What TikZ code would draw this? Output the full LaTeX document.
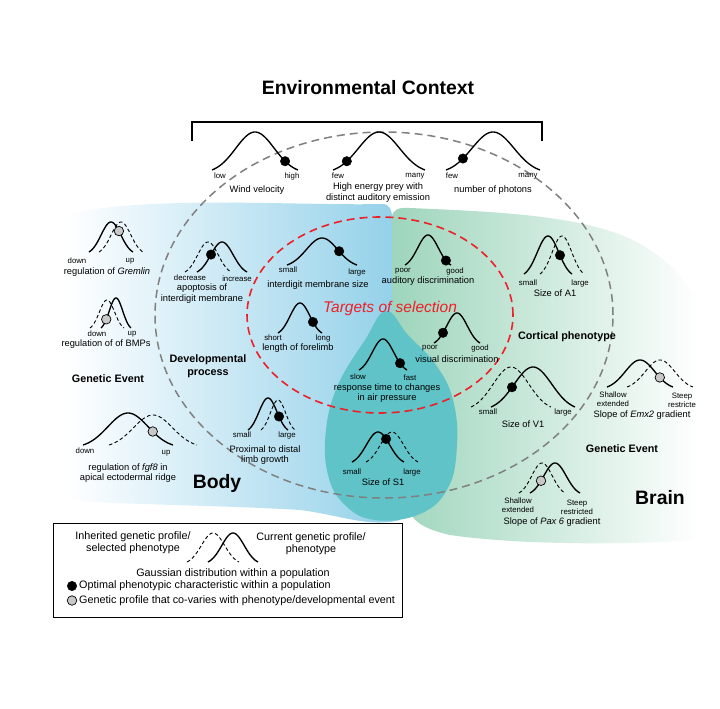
\documentclass[tikz,border=0pt]{standalone}
\usepackage{fontspec}
\setmainfont{Liberation Sans}
\definecolor{bodyblue}{RGB}{146,208,233}
\definecolor{braingreen}{RGB}{158,213,188}
\definecolor{tealsone}{RGB}{96,195,200}
\definecolor{dotgray}{RGB}{200,200,200}
\definecolor{circgray}{RGB}{128,128,128}
\definecolor{selred}{RGB}{237,32,40}
\tikzset{
  bellline/.style={line width=1.35pt, black},
  belldash/.style={line width=0.9pt, black, dash pattern=on 3.5pt off 2.5pt},
  bdot/.style={circle, fill=black, draw=black, inner sep=0pt, minimum size=9.5pt},
  gdot/.style={circle, fill=dotgray, draw=black, line width=0.7pt, inner sep=0pt, minimum size=9.5pt},
  lbl/.style={inner sep=0pt, align=center, font=\fontsize{7.8}{8.8}\selectfont},
  desc/.style={inner sep=0pt, align=center, font=\fontsize{9.3}{10.6}\selectfont},
  hdr/.style={inner sep=0pt, align=center, font=\bfseries\fontsize{10.8}{12.5}\selectfont},
  bigtitle/.style={inner sep=0pt, font=\bfseries\fontsize{19.4}{22}\selectfont},
  lgd/.style={inner sep=0pt, align=center, font=\fontsize{10.8}{12.4}\selectfont},
  graycirc/.style={circgray, line width=1.5pt, dash pattern=on 8pt off 5pt},
  redcirc/.style={selred, line width=1.6pt, dash pattern=on 8pt off 5pt},
}
% bell: [style] cx, base, half-width, height
\newcommand\bellc[5][bellline]{%
  \draw[bellline,#1] plot[domain=-1:1,samples=50,smooth]
    ({#2+#4*\x},{#3-#5*(exp(-2.5*\x*\x)-0.082)/0.918});}
% dot on a bell: name, style, cx, base, half-width, height, t
\newcommand\belldot[7]{%
  \node[#2] (#1) at ({#3+#5*(#7)},{#4-#6*(exp(-2.5*(#7)*(#7))-0.082)/0.918}) {};}

\begin{document}
\begin{tikzpicture}[x=1pt,y=-1pt]
\useasboundingbox (0,0) rectangle (720,709);
\fill[white] (0,0) rectangle (720,709);

% ---------- regions ----------
\shade[left color=white, right color=bodyblue]
  (68,214) .. controls (150,195) and (300,206) .. (382,204)
  .. controls (390,204) and (392,210) .. (392,218)
  -- (392,330) -- (400,520)
  .. controls (370,528) and (340,515) .. (300,510)
  .. controls (220,505) and (120,505) .. (70,500)
  .. controls (66,400) and (66,300) .. (68,214) -- cycle;
\shade[left color=braingreen, right color=white]
  (392,218) .. controls (392,210) and (398,207) .. (410,208)
  .. controls (500,212) and (600,215) .. (650,250)
  .. controls (680,270) and (695,290) .. (700,320)
  -- (700,540)
  .. controls (620,545) and (520,545) .. (450,535)
  .. controls (420,528) and (410,520) .. (405,500)
  -- (392,330) -- cycle;
\fill[tealsone] plot[smooth cycle, tension=0.7] coordinates
  {(386,311) (365,340) (338,385) (326,430) (328,475) (345,505) (375,520)
   (420,514) (448,488) (457,445) (453,400) (436,365) (408,335)};

% ---------- circles ----------
\draw[graycirc] (384,315) ellipse [x radius=229pt, y radius=183pt];
\draw[redcirc] (380,315) ellipse [x radius=133pt, y radius=98pt];

% ---------- environmental context ----------
\node[bigtitle] (title) at (368,88) {Environmental Context};
\draw[line width=1.6pt] (192,141) -- (192,122) -- (542,122) -- (542,141);

\bellc{255}{170}{43}{38}
\belldot{dwind}{bdot}{255}{170}{43}{38}{0.70}
\node[lbl] (lwlow) at (220,176) {low};
\node[lbl] (lwhigh) at (292,176) {high};
\node[desc] (twind) at (257,190) {Wind velocity};

\bellc{379}{170}{46}{38}
\belldot{dprey}{bdot}{379}{170}{46}{38}{-0.70}
\node[lbl] (lpfew) at (338,176) {few};
\node[lbl] (lpmany) at (415,176) {many};
\node[desc] (tprey) at (378,192.5) {High energy prey with\\distinct auditory emission};

\bellc{493}{170}{47}{38}
\belldot{dphot}{bdot}{493}{170}{47}{38}{-0.64}
\node[lbl] (lffew) at (452,176) {few};
\node[lbl] (lfmany) at (528,176) {many};
\node[desc] (tphot) at (493,190) {number of photons};

% ---------- body: genetic events ----------
\bellc{111}{252}{22}{30}
\bellc[belldash]{121}{252}{22}{30}
\belldot{dgrem}{gdot}{111}{252}{22}{30}{0.36}
\node[lbl] (lgdown) at (77,261) {down};
\node[lbl] (lgup) at (130,261) {up};
\node[desc] (tgrem) at (107,272) {regulation of \textit{Gremlin}};

\bellc{116}{328}{15}{30}
\bellc[belldash]{107}{328}{17}{28}
\belldot{dbmp}{gdot}{116}{328}{15}{30}{-0.65}
\node[lbl] (lbdown) at (97,334) {down};
\node[lbl] (lbup) at (132,334) {up};
\node[desc] (tbmp) at (106,344) {regulation of of BMPs};

\node[hdr] (genleft) at (108,379) {Genetic Event};

\bellc{128}{445}{45}{32}
\bellc[belldash]{153}{445}{44}{30}
\belldot{dfgf}{gdot}{128}{445}{45}{32}{0.55}
\node[lbl] (lfdown) at (85,451) {down};
\node[lbl] (lfup) at (166,453) {up};
\node[desc] (tfgf) at (128,473) {regulation of \textit{fgf8} in\\apical ectodermal ridge};

% ---------- body: developmental process ----------
\bellc{222}{272}{25}{30}
\bellc[belldash]{208}{272}{23}{30}
\belldot{dapop}{bdot}{222}{272}{25}{30}{-0.44}
\node[lbl] (ladec) at (190,278) {decrease};
\node[lbl] (lainc) at (237,279) {increase};
\node[desc] (tapop) at (202,293.5) {apoptosis of\\interdigit membrane};

\node[hdr] (devproc) at (208,366) {Developmental\\process};

\bellc{268}{430}{20}{32}
\bellc[belldash]{278}{430}{17}{30}
\belldot{dprox}{bdot}{268}{430}{20}{32}{0.55}
\node[lbl] (lpsmall) at (242,435) {small};
\node[lbl] (lplarge) at (287,435) {large};
\node[desc] (tprox) at (265,455) {Proximal to distal\\limb growth};

\node[bigtitle] (body) at (217,483) {Body};

% ---------- targets of selection ----------
\bellc{322}{265}{35}{27}
\belldot{dmemb}{bdot}{322}{265}{35}{27}{0.49}
\node[lbl] (lmsmall) at (288,270) {small};
\node[lbl] (lmlarge) at (357,272) {large};
\node[desc] (tmemb) at (318,285) {interdigit membrane size};

\bellc{300}{333}{22}{30}
\belldot{dfore}{bdot}{300}{333}{22}{30}{0.59}
\node[lbl] (lfshort) at (273,338) {short};
\node[lbl] (lflong) at (323,338) {long};
\node[desc] (tfore) at (298,348) {length of forelimb};

\node[inner sep=0pt, text=selred, font=\itshape\fontsize{15.5}{18}\selectfont] (targets) at (390,308) {Targets of selection};

\bellc{428}{265}{23}{30}
\belldot{daud}{bdot}{428}{265}{23}{30}{0.78}
\node[lbl] (lapoor) at (403,271) {poor};
\node[lbl] (lagood) at (455,271) {good};
\node[desc] (taud) at (428,281) {auditory discrimination};

\bellc{457}{343}{23}{30}
\belldot{dvis}{bdot}{457}{343}{23}{30}{-0.61}
\node[lbl] (lvpoor) at (430,348) {poor};
\node[lbl] (lvgood) at (480,348) {good};
\node[desc] (tvis) at (457,359) {visual discrimination};

\bellc{383}{370}{24}{31}
\belldot{dresp}{bdot}{383}{370}{24}{31}{0.71}
\node[lbl] (lrslow) at (358,377) {slow};
\node[lbl] (lrfast) at (410,378) {fast};
\node[desc] (tresp) at (387,393) {response time to changes\\in air pressure};

\bellc{378}{462}{26}{30}
\bellc[belldash]{392}{462}{26}{30}
\belldot{dsone}{bdot}{378}{462}{26}{30}{0.31}
\node[lbl] (lssmall) at (352,472) {small};
\node[lbl] (lslarge) at (412,472) {large};
\node[desc] (tsone) at (383,482) {Size of S1};

% ---------- brain ----------
\bellc{548}{274}{24}{38}
\bellc[belldash]{562}{274}{22}{38}
\belldot{daone}{bdot}{548}{274}{24}{38}{0.5}
\node[lbl] (lasmall) at (528,283) {small};
\node[lbl] (lalarge) at (580,283) {large};
\node[desc] (taone) at (555,293) {Size of A1};

\node[hdr] (cortical) at (567,337) {Cortical phenotype};

\bellc{533}{407}{42}{40}
\bellc[belldash]{511}{407}{40}{40}
\belldot{dvone}{bdot}{533}{407}{42}{40}{-0.5}
\node[lbl] (lvsmall) at (488,412) {small};
\node[lbl] (lvlarge) at (563,412) {large};
\node[desc] (tvone) at (523,424) {Size of V1};

\bellc{640}{387}{33}{27}
\bellc[belldash]{660}{387}{33}{27}
\belldot{demx}{gdot}{640}{387}{33}{27}{0.6}
\node[lbl] (leshal) at (613,399) {Shallow\\extended};
\node[lbl] (lestep) at (682,400) {Steep\\restricte};
\node[desc] (temx) at (642,415) {Slope of \textit{Emx2} gradient};

\node[hdr] (genright) at (622,449) {Genetic Event};

\bellc{555}{493}{25}{30}
\bellc[belldash]{542}{493}{23}{30}
\belldot{dpax}{gdot}{555}{493}{25}{30}{-0.56}
\node[lbl] (lpshal) at (518,505.5) {Shallow\\extended};
\node[lbl] (lpstep) at (577,507) {Steep\\restricted};
\node[desc] (tpax) at (552,522) {Slope of \textit{Pax 6} gradient};

\node[bigtitle] (brain) at (660,498) {Brain};

% ---------- legend ----------
\draw[line width=0.8pt] (53,523) rectangle (402,617);
\bellc[belldash]{213}{562}{26}{29}
\bellc{233}{562}{25}{29}
\node[lgd] (linh) at (133,543) {Inherited genetic profile/\\selected phenotype};
\node[lgd] (lcur) at (311,543.5) {Current genetic profile/\\phenotype};
\node[lgd] (lgauss) at (233,574) {Gaussian distribution within a population};
\node[bdot] (lgdotb) at (72,586) {};
\node[lgd, anchor=west] (lgopt) at (79,586) {Optimal phenotypic characteristic within a population};
\node[gdot] (lgdotg) at (72,600.5) {};
\node[lgd, anchor=west] (lggen) at (79,600.5) {Genetic profile that co-varies with phenotype/developmental event};
\end{tikzpicture}
\end{document}
